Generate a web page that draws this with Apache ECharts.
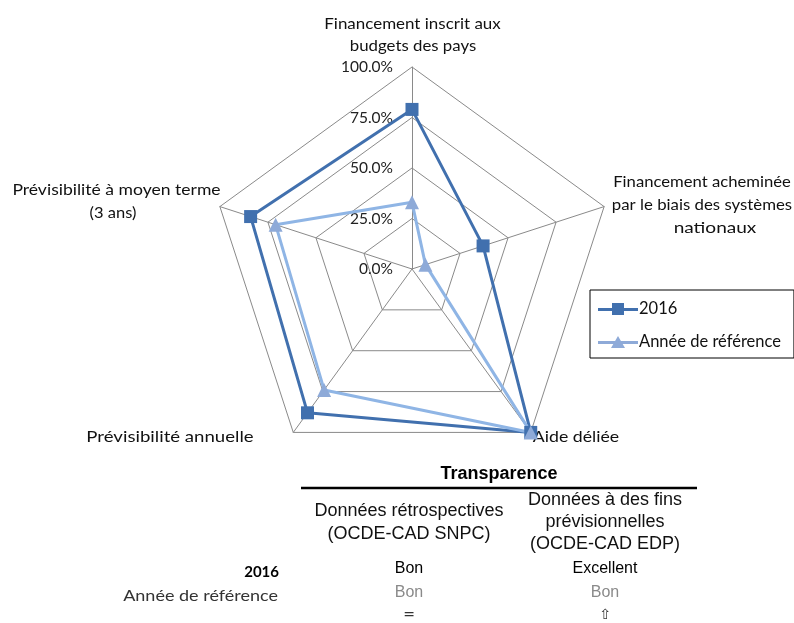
<!DOCTYPE html>
<html>
<head>
<meta charset="utf-8">
<script src="https://cdn.jsdelivr.net/npm/echarts@6/dist/echarts.min.js"></script>
<style>
  html, body { margin: 0; padding: 0; background: #fff; }
  #chart { width: 794px; height: 623px; }
</style>
</head>
<body>
<div id="chart"></div>
<script>
// Radar axes, listed counterclockwise from the top
const indicatorNames = [
  'Financement inscrit aux\nbudgets des pays',
  'Prévisibilité à moyen terme\n(3 ans)',
  'Prévisibilité annuelle',
  'Aide déliée',
  'Financement acheminée\npar le biais des systèmes\nnationaux'
];
const seriesNames = ['2016', 'Année de référence'];
const values2016 = [79, 84, 88, 100, 37];
const valuesRef = [33, 71, 74, 100, 7];
const tickValues = [0, 25, 50, 75, 100];

// Transparency table
const tableTitle = 'Transparence';
const tableColumns = ['Données rétrospectives\n(OCDE-CAD SNPC)', 'Données à des fins\nprévisionnelles\n(OCDE-CAD EDP)'];
const tableRowLabels = ['2016', 'Année de référence'];
const row2016 = ['Bon', 'Excellent'];
const rowRef = ['Bon', 'Bon'];
const rowTrend = ['=', '⇧'];

const chartFont = 'Lato';
const tableFont = '"Liberation Sans", Arial';
const darkBlue = '#4170ae';
const lightBlue = '#8fb5e5';
const lightMarker = '#8eaad8';

const chart = echarts.init(document.getElementById('chart'), null, { renderer: 'canvas' });

const indicator = indicatorNames.map((n, i) => {
  const o = { name: n, min: tickValues[0], max: tickValues[tickValues.length - 1] };
  if (i === 0) {
    o.axisLabel = {
      show: true,
      margin: 19,
      color: '#222',
      fontFamily: chartFont,
      fontSize: 15.5,
      formatter: v => v.toFixed(1) + '%'
    };
  }
  return o;
});

// Placement of each line of the axis names: centre x, centre y, horizontal stretch
const nameLayout = [
  [{ x: 412.5, y: 24.5, sx: 1.13 }, { x: 413, y: 46.5, sx: 1.12 }],
  [{ x: 116.5, y: 190.5, sx: 1.17 }, { x: 113, y: 213, sx: 1.1 }],
  [{ x: 170, y: 437, sx: 1.24 }],
  [{ x: 576, y: 437, sx: 1.18 }],
  [{ x: 702, y: 182, sx: 1.11 }, { x: 702, y: 205.5, sx: 1.12 }, { x: 715, y: 228, sx: 1.27 }]
];

const graphics = [];
indicatorNames.forEach((n, i) => {
  n.split('\n').forEach((line, j) => {
    const p = nameLayout[i][j];
    graphics.push({
      type: 'text', x: p.x, y: p.y, scaleX: p.sx,
      style: { text: line, align: 'center', verticalAlign: 'middle', font: '15px ' + chartFont, fill: '#111' }
    });
  });
});

// Table
const colX = [409, 605];
graphics.push({ type: 'text', x: 499, y: 474, style: { text: tableTitle, align: 'center', verticalAlign: 'middle', font: 'bold 18px ' + tableFont, fill: '#000' } });
graphics.push({ type: 'line', shape: { x1: 301, y1: 488, x2: 697, y2: 488 }, style: { stroke: '#000', lineWidth: 2.5 } });
graphics.push({ type: 'text', x: colX[0], y: 523, style: { text: tableColumns[0], align: 'center', verticalAlign: 'middle', font: '18px ' + tableFont, fill: '#111', lineHeight: 23 } });
graphics.push({ type: 'text', x: colX[1], y: 522, style: { text: tableColumns[1], align: 'center', verticalAlign: 'middle', font: '18px ' + tableFont, fill: '#111', lineHeight: 22 } });
graphics.push({ type: 'text', x: 279, y: 572.5, style: { text: tableRowLabels[0], align: 'right', verticalAlign: 'middle', font: 'bold 15px ' + chartFont, fill: '#000' } });
graphics.push({ type: 'text', x: 278, y: 596, scaleX: 1.2, style: { text: tableRowLabels[1], align: 'right', verticalAlign: 'middle', font: '15px ' + chartFont, fill: '#333' } });
row2016.forEach((t, i) => graphics.push({ type: 'text', x: colX[i], y: 569, style: { text: t, align: 'center', verticalAlign: 'middle', font: '16px ' + tableFont, fill: '#000' } }));
rowRef.forEach((t, i) => graphics.push({ type: 'text', x: colX[i], y: 593, style: { text: t, align: 'center', verticalAlign: 'middle', font: '16px ' + tableFont, fill: '#8a8a8a' } }));
rowTrend.forEach((t, i) => graphics.push({ type: 'text', x: colX[i], y: 615, style: { text: t, align: 'center', verticalAlign: 'middle', font: '14px "DejaVu Sans"', fill: '#333' } }));

const option = {
  animation: false,
  backgroundColor: '#fff',
  legend: {
    orient: 'vertical',
    left: 590,
    top: 290,
    padding: [9, 13, 6, 8],
    itemGap: 13,
    itemWidth: 40,
    itemHeight: 12,
    borderColor: '#000',
    borderWidth: 1,
    textStyle: { fontFamily: chartFont, fontSize: 16.5, lineHeight: 20, color: '#111', padding: [0, 0, 0, -4] },
    data: [
      { name: seriesNames[0], icon: 'path://M0,5h40v3H0z M14,0h12v12H14z', itemStyle: { color: darkBlue } },
      { name: seriesNames[1], icon: 'path://M0,5h40v3H0z M13,12L20,0L27,12z', itemStyle: { color: lightMarker } }
    ]
  },
  radar: {
    center: [412, 269],
    radius: 202,
    startAngle: 90,
    shape: 'polygon',
    splitNumber: tickValues.length - 1,
    indicator: indicator,
    axisName: { show: false },
    axisLabel: { show: false },
    axisLine: { lineStyle: { color: '#8a8a8a', width: 1 } },
    splitLine: { lineStyle: { color: '#8a8a8a', width: 1 } },
    splitArea: { show: false },
    axisTick: { show: false }
  },
  series: [{
    type: 'radar',
    data: [
      {
        name: seriesNames[0], value: values2016,
        symbol: 'rect', symbolSize: 13,
        lineStyle: { color: darkBlue, width: 3 },
        itemStyle: { color: darkBlue }
      },
      {
        name: seriesNames[1], value: valuesRef,
        symbol: 'triangle', symbolSize: 14,
        lineStyle: { color: lightBlue, width: 3 },
        itemStyle: { color: lightMarker }
      }
    ]
  }],
  graphic: graphics
};

chart.setOption(option);
</script>
</body>
</html>
